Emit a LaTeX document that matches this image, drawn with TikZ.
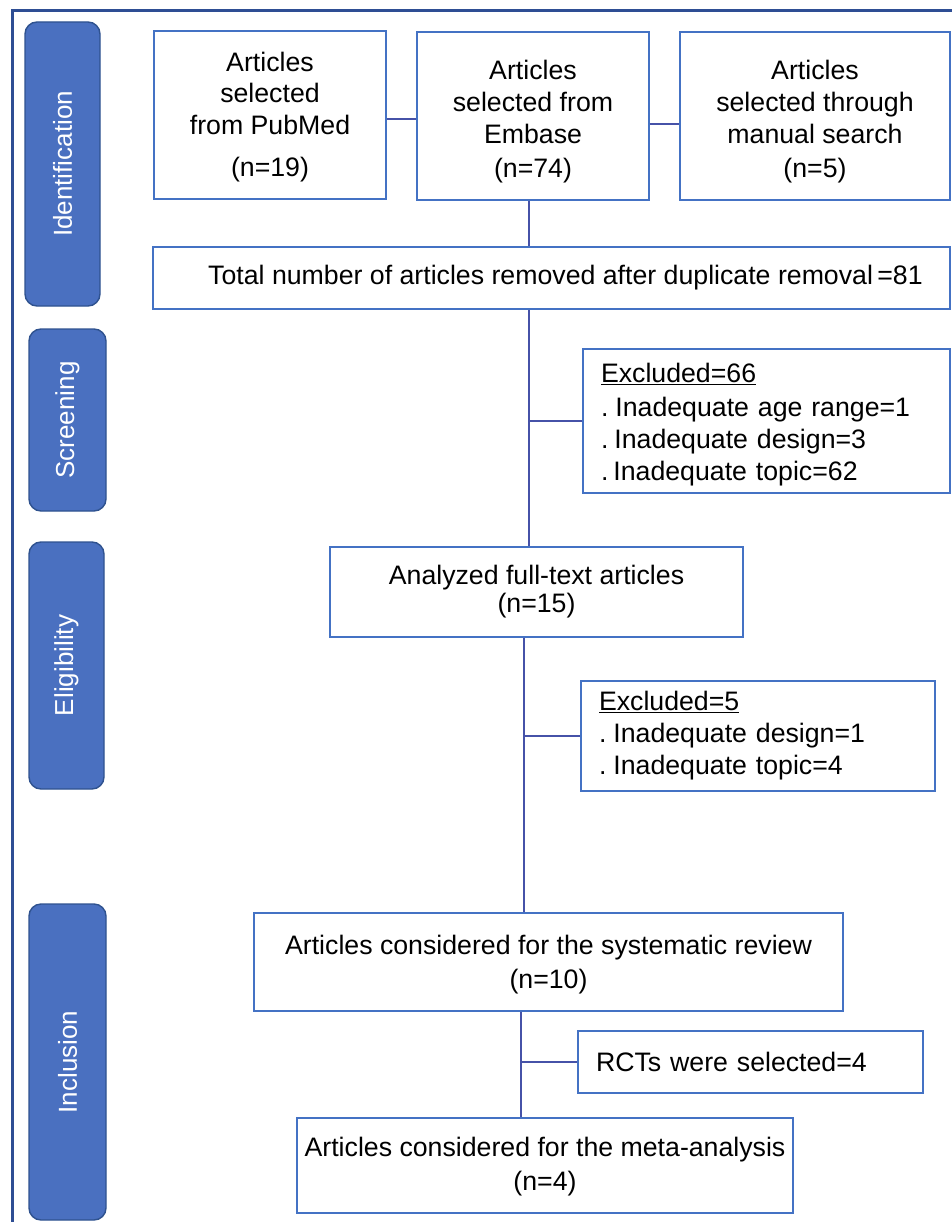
\documentclass[tikz,border=0pt]{standalone}
\usepackage{fontspec}
\setmainfont{Liberation Sans}
\definecolor{boxblue}{HTML}{4472C4}
\definecolor{barblue}{HTML}{4A70C0}
\definecolor{bardark}{HTML}{2F528F}
\definecolor{connblue}{HTML}{4652A8}
\definecolor{frameblue}{HTML}{2E4E94}
\tikzset{
  box/.style={draw=boxblue, line width=1.6pt, fill=white, inner sep=0pt, align=center,
    font=\fontsize{26.7}{32}\selectfont},
  lbox/.style={box, align=left, inner xsep=18pt},
  bar/.style={draw=bardark, line width=1.4pt, fill=barblue, rounded corners=12pt, inner sep=0pt,
    text=white, font=\fontsize{26}{32}\selectfont},
  bartext/.style={text=white, rotate=90, inner sep=0pt, font=\fontsize{26}{32}\selectfont},
  conn/.style={draw=connblue, line width=1.5pt},
}
\begin{document}
\begin{tikzpicture}[x=1pt,y=-1pt]
\useasboundingbox (0,0) rectangle (951,1222);
% outer frame
\draw[frameblue, line width=3pt] (12,1230) -- (12,11) -- (960,11);

% side bars
\node[bar, minimum width=75pt, minimum height=284pt] (idbar) at (62.5,164) {};
\node[bartext] (idtxt) at (idbar.center) {Identification};
\node[bar, minimum width=77pt, minimum height=182pt] (scrbar) at (67.5,420) {};
\node[bartext] (scrtxt) at (scrbar.center) {Screening};
\node[bar, minimum width=75pt, minimum height=247pt] (elibar) at (66.5,665.5) {};
\node[bartext] (elitxt) at (elibar.center) {Eligibility};
\node[bar, minimum width=77pt, minimum height=316pt] (incbar) at (67.5,1062) {};
\node[bartext] (inctxt) at (incbar.center) {Inclusion};

% identification boxes
\node[box, minimum width=232pt, minimum height=168pt] (pub) at (270,115)
  {\rule{0pt}{24pt}Articles\\[-1pt]selected\\from PubMed\\[10pt](n=19)};
\node[box, minimum width=232pt, minimum height=168pt] (emb) at (533,116)
  {\rule{0pt}{30pt}Articles\\selected from\\Embase\\[2pt](n=74)};
\node[box, minimum width=270pt, minimum height=168pt] (man) at (815,116)
  {\rule{0pt}{30pt}Articles\\selected through\\manual search\\[2pt](n=5)};
\node[box, minimum width=797pt, minimum height=62pt] (tot) at (551.5,278)
  {\hspace*{28pt}Total number of articles removed after duplicate removal\,=81};

% screening
\node[lbox, text width=331pt, minimum height=144pt] (exc1) at (766.5,421)
  {\rule{0pt}{26pt}\underline{Excluded=66}\\[2pt].\hspace{7pt}Inadequate age range=1\\.\hspace{6pt}Inadequate design=3\\.\hspace{5pt}Inadequate topic=62};

% eligibility
\node[lbox, text width=318pt, minimum height=110pt] (exc2) at (758,736)
  {\underline{Excluded=5}\\.\hspace{7pt}Inadequate design=1\\.\hspace{7pt}Inadequate topic=4};
\node[box, minimum width=413pt, minimum height=90pt] (ana) at (536.5,592)
  {Analyzed full-text articles\\[-4pt](n=15)};

% inclusion
\node[box, minimum width=589pt, minimum height=98pt] (sys) at (548.5,962)
  {\rule{0pt}{24pt}Articles considered for the systematic review\\[2pt](n=10)};
\node[lbox, text width=309pt, minimum height=62pt] (rct) at (750.5,1062)
  {RCTs were selected=4};
\node[box, minimum width=496pt, minimum height=95pt] (meta) at (545,1165.5)
  {\rule{0pt}{22pt}Articles considered for the meta-analysis\\[2pt](n=4)};

% spine coordinates
\coordinate (s1) at (529,0);
\coordinate (s2) at (524,0);
\coordinate (s3) at (521,0);

% connectors
\draw[conn] ([yshift=-4pt]pub.east) -- ([yshift=-4pt]pub.east -| emb.west);
\draw[conn] ([yshift=-8pt]emb.east) -- ([yshift=-8pt]emb.east -| man.west);
\draw[conn] (emb.south -| s1) -- (tot.north -| s1);
\draw[conn] (tot.south -| s1) -- (ana.north -| s1);
\draw[conn] (s1 |- exc1.west) -- (exc1.west);
\draw[conn] (ana.south -| s2) -- (sys.north -| s2);
\draw[conn] (s2 |- exc2.west) -- (exc2.west);
\draw[conn] (sys.south -| s3) -- (meta.north -| s3);
\draw[conn] (s3 |- rct.west) -- (rct.west);
\end{tikzpicture}
\end{document}
